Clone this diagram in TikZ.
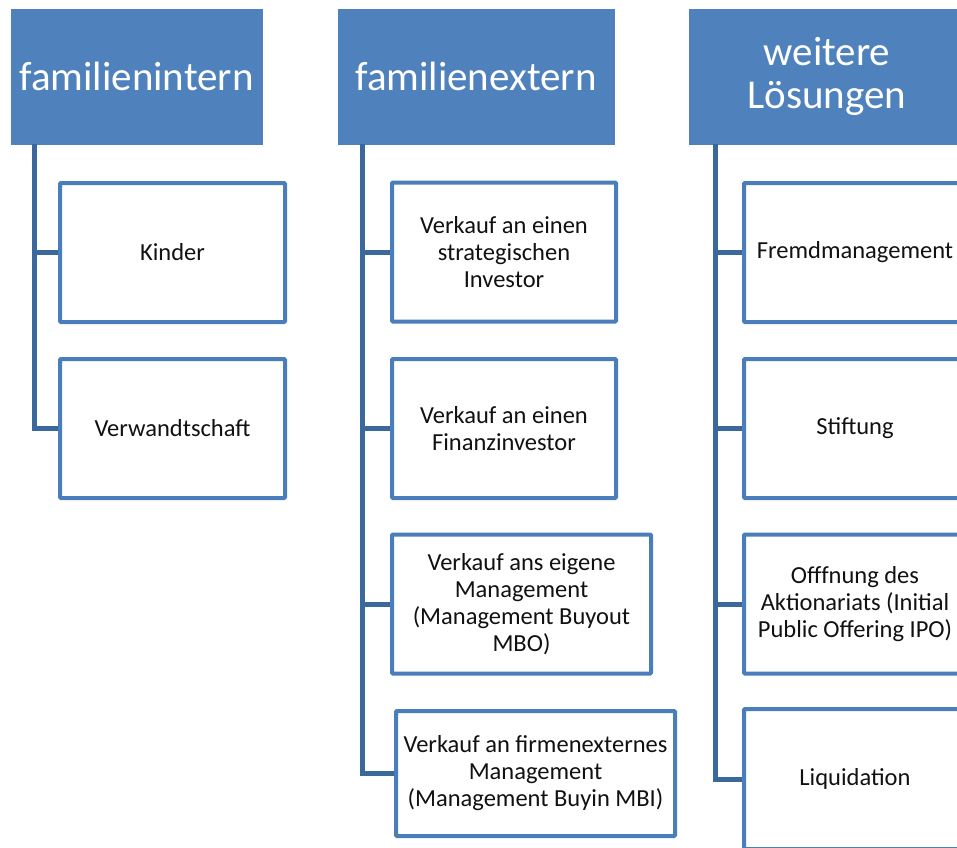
\documentclass[tikz,border=0pt]{standalone}
\usepackage{fontspec}
\setmainfont{Carlito}
\definecolor{hdr}{HTML}{4F81BD}
\definecolor{bord}{HTML}{4A7EBB}
\definecolor{lin}{HTML}{3A679C}
\definecolor{txt}{HTML}{111111}
\begin{document}
\begin{tikzpicture}[x=1pt,y=-1pt,
  header/.style={draw=hdr,fill=hdr,line width=0.8pt,inner sep=0pt,minimum height=135pt,
    text=white,align=center,font=\fontsize{41}{43}\selectfont},
  child/.style={draw=bord,fill=white,line width=4pt,inner sep=0pt,minimum height=139pt,
    text=txt,align=center,font=\fontsize{24.5}{27}\selectfont,rounded corners=1pt},
  conn/.style={draw=lin,line width=5pt}]
\useasboundingbox (0,0) rectangle (957,847);
\clip (0,0) rectangle (957,847);
% headers
\node[header,minimum width=251pt] (h1) at (136.5,76.5) {familienintern};
\node[header,minimum width=276pt] (h2) at (476,76.5) {familienextern};
\node[header,minimum width=276pt] (h3) at (827,76.5) {weitere\\Lösungen};
% trunk tops
\coordinate (t1) at (34,144);
\coordinate (t2) at (362,144);
\coordinate (t3) at (715,144);
% children column 1
\node[child,minimum width=225pt] (a1) at (172.5,252.5) {Kinder};
\node[child,minimum width=225pt] (a2) at (172.5,428.5) {Verwandtschaft};
% children column 2
\node[child,minimum width=224pt] (b1) at (504,252) {Verkauf an einen\\strategischen\\Investor};
\node[child,minimum width=224pt] (b2) at (504,428.5) {Verkauf an einen\\Finanzinvestor};
\node[child,minimum width=259pt] (b3) at (521.5,604) {Verkauf ans eigene\\Management\\(Management Buyout\\MBO)};
\node[child,minimum width=279pt,minimum height=125pt] (b4) at (535.5,773.5) {Verkauf an firmenexternes\\Management\\(Management Buyin MBI)};
% children column 3
\node[child,minimum width=222pt] (c1) at (855,252.5) {Fremdmanagement};
\node[child,minimum width=222pt] (c2) at (855,428.5) {Stiftung};
\node[child,minimum width=222pt] (c3) at (855,604) {Offfnung des\\Aktionariats (Initial\\Public Offering IPO)};
\node[child,minimum width=222pt,minimum height=140pt] (c4) at (855,779) {Liquidation};
% connectors
\foreach \c in {a1,a2} \draw[conn] (t1) |- (\c.west);
\foreach \c in {b1,b2,b3,b4} \draw[conn] (t2) |- (\c.west);
\foreach \c in {c1,c2,c3,c4} \draw[conn] (t3) |- (\c.west);
\end{tikzpicture}
\end{document}
